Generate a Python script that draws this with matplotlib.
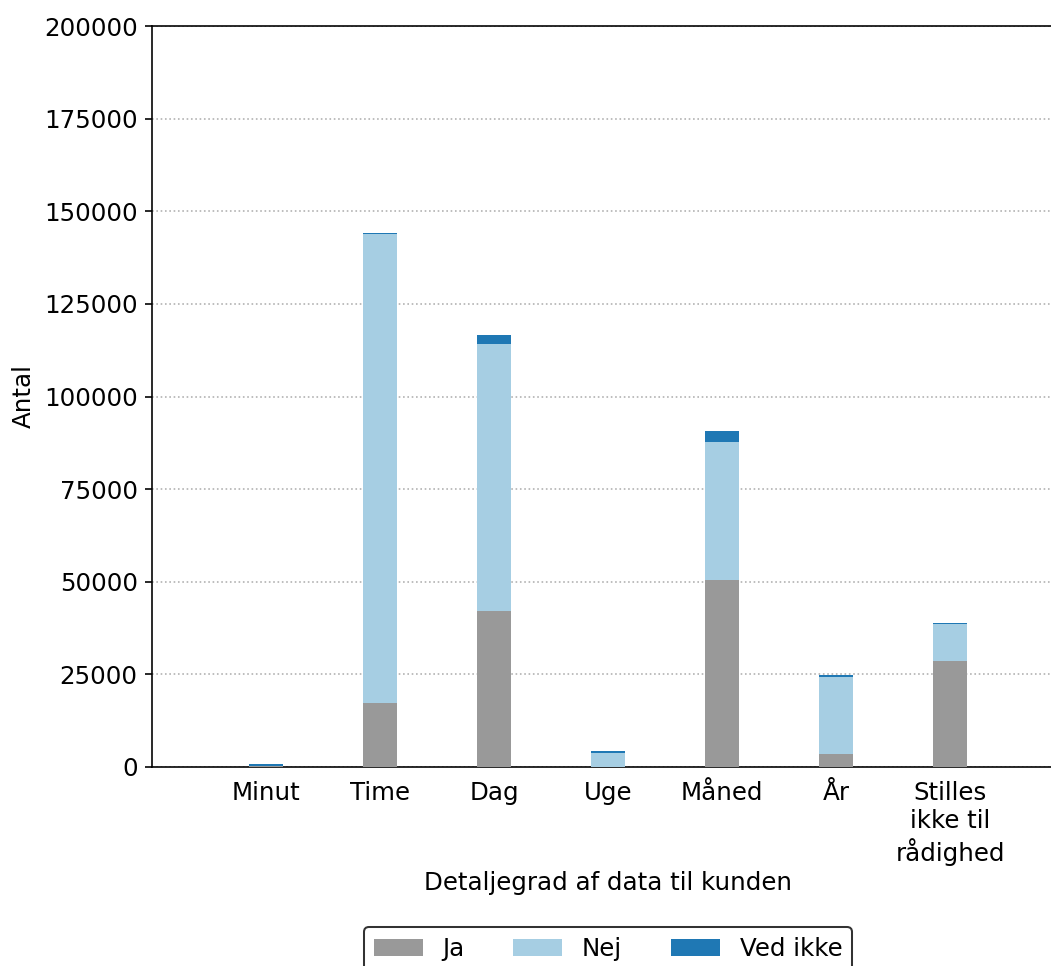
import matplotlib
matplotlib.use("Agg")
import matplotlib.pyplot as plt
import numpy as np

categories = ["Minut", "Time", "Dag", "Uge", "Måned", "År", "Stilles\nikke til\nrådighed"]
ja = [300, 17300, 42000, 100, 50500, 3500, 28600]
nej = [100, 126500, 72200, 3800, 37200, 20900, 10000]
ved_ikke = [500, 400, 2400, 300, 3000, 400, 300]

series_labels = ["Ja", "Nej", "Ved ikke"]
colors = ["#999999", "#a6cee3", "#1f78b4"]

plt.rcParams["font.family"] = "DejaVu Sans"
plt.rcParams["font.size"] = 12

DPI = 147
W, H = 1051, 966
fig = plt.figure(figsize=(W / DPI, H / DPI), dpi=DPI)
left, right, top, bottom = 152, 1064, 26, 767
ax = fig.add_axes([left / W, 1 - bottom / H, (right - left) / W, (bottom - top) / H])

x = np.arange(1, len(categories) + 1)
width = 0.3
ja_arr = np.array(ja)
nej_arr = np.array(nej)
ved_arr = np.array(ved_ikke)

ax.bar(x, ja_arr, width, color=colors[0], label=series_labels[0], zorder=3)
ax.bar(x, nej_arr, width, bottom=ja_arr, color=colors[1], label=series_labels[1], zorder=3)
ax.bar(x, ved_arr, width, bottom=ja_arr + nej_arr, color=colors[2], label=series_labels[2], zorder=3)

ax.set_xlim(0, 8)
ax.set_ylim(0, 200000)
ax.set_yticks(np.arange(0, 200001, 25000))
ax.set_xticks(x)
ax.set_xticklabels(categories, fontsize=12)
ax.tick_params(axis="x", length=0, pad=7)
ax.tick_params(axis="y", labelsize=12)
ax.yaxis.grid(True, linestyle=":", color="#b0b0b0", linewidth=0.8, zorder=0)
ax.set_axisbelow(True)
ax.spines["right"].set_visible(False)

ax.set_xlabel("Detaljegrad af data til kunden", fontsize=12, labelpad=2.5)
ax.set_ylabel("Antal", fontsize=12, labelpad=4)

leg = ax.legend(loc="upper center", bbox_to_anchor=(0.5, -0.2), ncol=3,
                fontsize=12, frameon=True, edgecolor="black", fancybox=True)
leg.get_frame().set_linewidth(1.0)

fig.savefig("out.png", dpi=DPI)
